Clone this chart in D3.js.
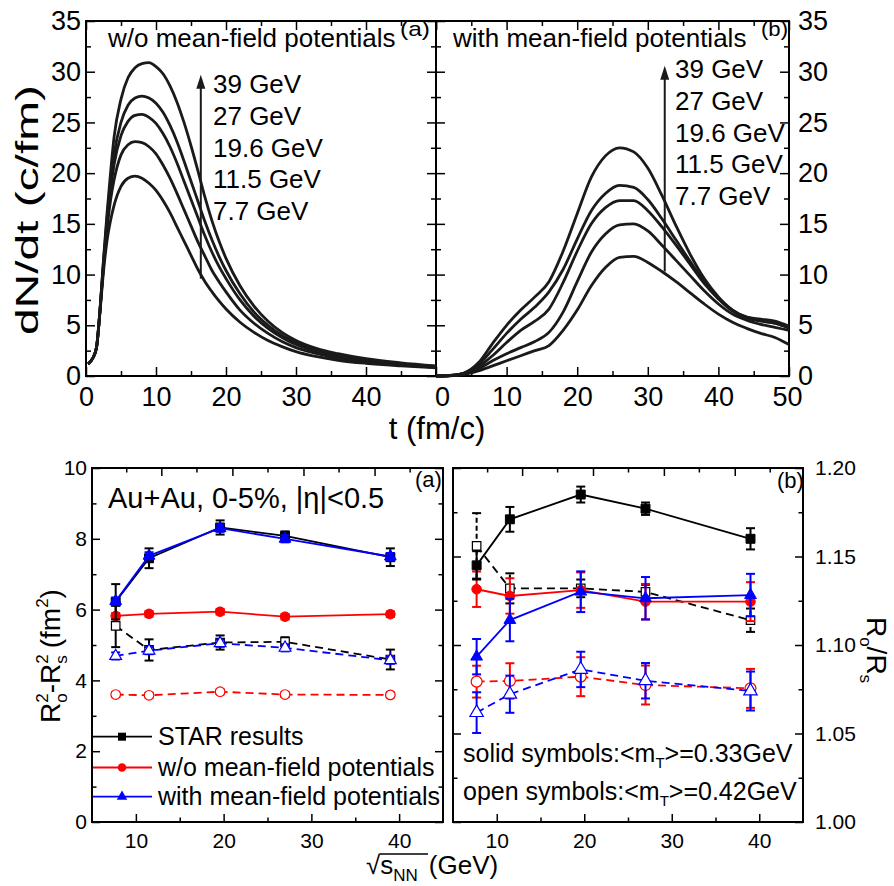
<!DOCTYPE html>
<html><head><meta charset="utf-8">
<script src="https://cdn.jsdelivr.net/npm/d3@7/dist/d3.min.js"></script>
<style>
body{margin:0;background:#fff;}
svg text{font-family:"Liberation Sans",Arial,Helvetica,sans-serif;fill:#000;}
</style></head><body>
<svg id="chart" width="894" height="886" xmlns="http://www.w3.org/2000/svg"></svg>
<script>
// ---------------- DATA ----------------
// Top panels: dN/dt (c/fm) vs t (fm/c)
const energyLabels = ["39 GeV", "27 GeV", "19.6 GeV", "11.5 GeV", "7.7 GeV"];
const tA = [0.3,1,1.5,2,2.5,3,3.5,4,5,6,7,8,9,10,11,12,13,14,15,16,17,18,19,20,22,24,26,28,30,33,36,40,45,50];
const dndtA_39  = [1.2,1.8,2.8,6.5,11.5,16,20,23.5,27.3,29.4,30.4,30.8,30.9,30.5,29.8,28.6,27,25,22.7,20.2,17.6,15.3,13.3,11.6,8.9,6.9,5.4,4.3,3.5,2.7,2.2,1.7,1.3,1.0];
const dndtA_27  = [1.2,1.8,2.8,6.5,11.3,15.5,19,21.8,25,26.7,27.4,27.6,27.4,26.9,26,24.7,23.1,21.2,19.2,17.2,15.2,13.4,11.8,10.4,8.1,6.3,5,4,3.3,2.5,2,1.6,1.2,0.95];
const dndtA_196 = [1.2,1.8,2.8,6.5,11,15,18.3,20.8,23.7,25.1,25.7,25.8,25.5,24.9,23.9,22.6,21,19.2,17.4,15.6,13.8,12.2,10.8,9.6,7.5,5.9,4.7,3.8,3.1,2.4,1.9,1.5,1.15,0.9];
const dndtA_115 = [1.2,1.8,2.8,6.5,10.8,14.5,17.3,19.3,21.8,22.8,23.1,23,22.6,21.9,20.8,19.5,18,16.4,14.8,13.2,11.8,10.4,9.3,8.3,6.5,5.2,4.2,3.4,2.8,2.2,1.75,1.4,1.1,0.85];
const dndtA_77  = [1.2,1.8,2.8,6.3,10.3,13.3,15.3,16.8,18.7,19.5,19.7,19.5,19,18.3,17.3,16.1,14.7,13.3,11.9,10.5,9.3,8.3,7.4,6.6,5.3,4.3,3.5,2.9,2.4,1.9,1.55,1.25,1.0,0.8];

const tB = [0,2,4,6,8,10,12,14,16,18,20,22,24,26,28,30,32,34,36,38,40,42,44,46,48,50];
const dndtB_39  = [0,0.05,0.3,1.3,3.2,5.0,6.5,7.8,9.3,12.3,16.0,19.6,21.7,22.5,22.1,20.5,17.8,14.8,12.0,9.6,7.8,6.5,5.8,5.6,5.4,4.9];
const dndtB_27  = [0,0.05,0.3,1.1,2.6,4.2,5.6,6.8,8.3,10.5,13.5,16.3,18.0,18.8,18.6,17.4,15.5,13.4,11.3,9.3,7.7,6.5,5.8,5.5,5.2,4.8];
const dndtB_196 = [0,0.05,0.25,0.9,2.0,3.3,4.5,5.4,6.6,9.2,12.3,15.0,16.6,17.3,17.3,16.3,14.7,12.9,11.0,9.1,7.6,6.4,5.7,5.4,5.2,4.7];
const dndtB_115 = [0,0.03,0.2,0.7,1.5,2.2,2.8,3.4,4.3,6.3,9.3,12.2,14.0,14.9,15.0,14.3,12.9,11.4,9.9,8.4,7.1,6.1,5.5,5.1,4.8,4.5];
const dndtB_77  = [0,0.02,0.15,0.5,1.0,1.5,2.0,2.5,3.0,4.5,6.5,8.9,10.7,11.7,11.8,11.2,10.3,9.3,8.2,7.1,6.1,5.3,4.7,4.2,3.8,3.1];

// arrows (data units: t, from, to)
const arrowA = [16.4, 9.6, 29.7];
const arrowB = [32.4, 10.3, 30.6];

// Top tick values
const topXMajor = [0,10,20,30,40,50];
const topXMinor = [5,15,25,35,45];
const topYMajor = [0,5,10,15,20,25,30,35];
const topYMinor = [2.5,7.5,12.5,17.5,22.5,27.5,32.5];

// Bottom panels
const energies = [7.7, 11.5, 19.6, 27, 39];
// (a) Ro^2 - Rs^2 (fm^2)
const starSolidA = [6.22, 7.45, 8.32, 8.08, 7.48];
const starSolidAErr = [0.5, 0.28, 0.2, 0.13, 0.25];
const starOpenA = [5.54, 4.86, 5.07, 5.09, 4.59];
const starOpenAErr = [0.6, 0.3, 0.2, 0.13, 0.28];
const woSolidA = [5.82, 5.88, 5.94, 5.80, 5.87];
const woSolidAErr = [0.08, 0.08, 0.08, 0.08, 0.08];
const woOpenA = [3.60, 3.58, 3.68, 3.60, 3.59];
const woOpenAErr = [0.07, 0.07, 0.07, 0.07, 0.07];
const withSolidA = [6.24, 7.52, 8.30, 8.00, 7.50];
const withSolidAErr = [0.1, 0.1, 0.1, 0.1, 0.1];
const withOpenA = [4.69, 4.84, 5.05, 4.92, 4.57];
const withOpenAErr = [0.1, 0.1, 0.1, 0.1, 0.1];
// (b) Ro/Rs
const starSolidB = [1.145, 1.171, 1.185, 1.177, 1.160];
const starSolidBErr = [0.008, 0.007, 0.0045, 0.0035, 0.006];
const starOpenB = [1.156, 1.132, 1.132, 1.130, 1.114];
const starOpenBErr = [0.0185, 0.0085, 0.005, 0.004, 0.0066];
const woSolidB = [1.1315, 1.1277, 1.131, 1.1245, 1.1245];
const woSolidBErr = [0.01, 0.01, 0.01, 0.01, 0.011];
const woOpenB = [1.0793, 1.0797, 1.0821, 1.0774, 1.0755];
const woOpenBErr = [0.009, 0.01, 0.011, 0.011, 0.011];
const withSolidB = [1.0934, 1.1141, 1.1301, 1.1264, 1.1282];
const withSolidBErr = [0.01, 0.012, 0.0115, 0.012, 0.012];
const withOpenB = [1.0618, 1.0722, 1.0862, 1.0798, 1.074];
const withOpenBErr = [0.0115, 0.0105, 0.01, 0.01, 0.011];

const botXMajor = [10,20,30,40];
const botXMinor = [15,25,35];
const botTopMajor = [12.9, 21.0, 29.1, 37.2];
const botTopMinor = [8.9, 16.9, 25.0, 33.1, 41.2];
const leftYMajor = [0,2,4,6,8,10];
const leftYMinor = [1,3,5,7,9];
const rightYMajor = [1.00,1.05,1.10,1.15,1.20];
const rightYMinor = [1.025,1.075,1.125,1.175];

const legendLabels = ["STAR results", "w/o mean-field potentials", "with mean-field potentials"];

// ---------------- DRAWING ----------------
const FONT = '"Liberation Sans", Arial, Helvetica, sans-serif';
const svg = d3.select("#chart");
const RED = "#ff0000", BLUE = "#0000ff", BLACK = "#000000";

function axes(transform, maker, scale, majors, minors, opts) {
  const o = Object.assign({major: 8, minor: 4.5, pad: 4, size: 20, labels: false, fmt: d3.format("d")}, opts);
  const g = svg.append("g").attr("transform", transform);
  g.call(maker(scale).tickValues(majors).tickSizeInner(-o.major).tickSizeOuter(0)
    .tickPadding(o.pad).tickFormat(o.labels ? o.fmt : () => ""));
  g.select(".domain").remove();
  g.attr("font-family", FONT).attr("font-size", o.size);
  g.selectAll(".tick line").attr("stroke", "#000").attr("stroke-width", 1.5);
  g.selectAll(".tick text").attr("fill", "#000");
  if (minors && minors.length) {
    const g2 = svg.append("g").attr("transform", transform);
    g2.call(maker(scale).tickValues(minors).tickSizeInner(-o.minor).tickSizeOuter(0).tickFormat(() => ""));
    g2.select(".domain").remove();
    g2.selectAll(".tick line").attr("stroke", "#000").attr("stroke-width", 1.5);
  }
  return g;
}
function frame(x0, y0, x1, y1) {
  svg.append("rect").attr("x", x0).attr("y", y0).attr("width", x1 - x0).attr("height", y1 - y0)
    .attr("fill", "none").attr("stroke", "#000").attr("stroke-width", 2);
}

// ---- Top panels ----
const yTop = d3.scaleLinear().domain([0, 35]).range([376, 21]);
const xA = d3.scaleLinear().domain([0, 50]).range([86, 436]);
const xB = d3.scaleLinear().domain([0, 50]).range([436, 789]);

// panel a axes
axes("translate(0,376)", d3.axisBottom, xA, topXMajor.slice(0, 5), topXMinor, {labels: true, size: 27, pad: 11, major: 9, minor: 5});
axes("translate(0,21)", d3.axisTop, xA, topXMajor, topXMinor, {major: 9, minor: 5});
axes("translate(86,0)", d3.axisLeft, yTop, topYMajor, topYMinor, {labels: true, size: 27, pad: 5, major: 9, minor: 5});
axes("translate(436,0)", d3.axisRight, yTop, topYMajor, topYMinor, {major: 9, minor: 5});
// panel b axes
const bAx = axes("translate(0,376)", d3.axisBottom, xB, topXMajor, topXMinor, {labels: true, size: 27, pad: 11, major: 9, minor: 5});
bAx.selectAll(".tick text").attr("dx", d => d === 0 ? 6 : (d === 50 ? -2 : 0));
axes("translate(0,21)", d3.axisTop, xB, topXMajor, topXMinor, {major: 9, minor: 5});
axes("translate(436,0)", d3.axisLeft, yTop, topYMajor, topYMinor, {major: 9, minor: 5});
axes("translate(789,0)", d3.axisRight, yTop, topYMajor, topYMinor, {labels: true, size: 27, pad: 9, major: 9, minor: 5});
frame(86, 21, 436, 376);
frame(436, 21, 789, 376);

function curves(x, ts, series) {
  const line = d3.line().x((d, i) => x(ts[i])).y(d => yTop(d)).curve(d3.curveMonotoneX);
  series.forEach(s => {
    svg.append("path").datum(s).attr("d", line).attr("fill", "none")
      .attr("stroke", "#1a1a1a").attr("stroke-width", 2.8).attr("stroke-linejoin", "round");
  });
}
curves(xA, tA, [dndtA_77, dndtA_115, dndtA_196, dndtA_27, dndtA_39]);
curves(xB, tB, [dndtB_77, dndtB_115, dndtB_196, dndtB_27, dndtB_39]);

function arrow(x, a) {
  const px = x(a[0]), y0 = yTop(a[1]), y1 = yTop(a[2]);
  svg.append("line").attr("x1", px).attr("x2", px).attr("y1", y0).attr("y2", y1 + 8)
    .attr("stroke", "#1a1a1a").attr("stroke-width", 2);
  const p = d3.path();
  p.moveTo(px, y1); p.lineTo(px - 4.5, y1 + 14); p.lineTo(px + 4.5, y1 + 14); p.closePath();
  svg.append("path").attr("d", p.toString()).attr("fill", "#1a1a1a");
}
arrow(xA, arrowA);
arrow(xB, arrowB);

function energyText(x0, b0) {
  energyLabels.forEach((t, i) => {
    svg.append("text").attr("x", x0).attr("y", b0 + i * 31.75).attr("font-size", 26).text(t);
  });
}
energyText(213, 93);
energyText(675, 78);

svg.append("text").attr("x", 108).attr("y", 47).attr("font-size", 26).text("w/o mean-field potentials");
svg.append("text").attr("x", 400).attr("y", 36).attr("font-size", 21).attr("textLength", 30).attr("lengthAdjust", "spacingAndGlyphs").text("(a)");
svg.append("text").attr("x", 453).attr("y", 47).attr("font-size", 26).text("with mean-field potentials");
svg.append("text").attr("x", 761).attr("y", 36).attr("font-size", 21).attr("textLength", 27).attr("lengthAdjust", "spacingAndGlyphs").text("(b)");

svg.append("text").attr("x", 437).attr("y", 439).attr("font-size", 31).attr("text-anchor", "middle").text("t (fm/c)");
svg.append("text").attr("transform", "translate(38,210) rotate(-90)").attr("font-size", 32)
  .attr("text-anchor", "middle").attr("textLength", 250).attr("lengthAdjust", "spacingAndGlyphs").text("dN/dt (c/fm)");

// ---- Bottom panels ----
const yL = d3.scaleLinear().domain([0, 10]).range([822, 468]);
const yR = d3.scaleLinear().domain([1.0, 1.2]).range([822, 468]);
const xL = d3.scaleLinear().domain([5, 45]).range([92, 443]);
const xR = d3.scaleLinear().domain([5, 45]).range([453, 803]);

axes("translate(92,0)", d3.axisLeft, yL, leftYMajor, leftYMinor, {labels: true, size: 21, pad: 5});
axes("translate(443,0)", d3.axisRight, yL, leftYMajor, leftYMinor, {});
axes("translate(0,822)", d3.axisBottom, xL, botXMajor, botXMinor, {labels: true, size: 21, pad: 11});
axes("translate(0,468)", d3.axisTop, xL, botTopMajor, botTopMinor, {});
axes("translate(803,0)", d3.axisRight, yR, rightYMajor, rightYMinor, {labels: true, size: 21, pad: 12, fmt: d3.format(".2f")});
axes("translate(453,0)", d3.axisLeft, yR, rightYMajor, rightYMinor, {});
axes("translate(0,822)", d3.axisBottom, xR, botXMajor, botXMinor, {labels: true, size: 21, pad: 11});
axes("translate(0,468)", d3.axisTop, xR, botTopMajor, botTopMinor, {});
frame(92, 468, 443, 822);
frame(453, 468, 803, 822);

const SYM = {square: d3.symbolSquare, circle: d3.symbolCircle, triangle: d3.symbolTriangle};
const SIZE = {square: 80, circle: 72, triangle: 60};
function drawSeries(x, y, vals, errs, st) {
  const pts = energies.map((e, i) => ({e, v: vals[i], err: errs ? errs[i] : 0}));
  const g = svg.append("g");
  g.append("path").datum(pts)
    .attr("d", d3.line().x(d => x(d.e)).y(d => y(d.v)))
    .attr("fill", "none").attr("stroke", st.color).attr("stroke-width", 1.8)
    .attr("stroke-dasharray", st.dashed ? "8,5" : null);
  if (errs) {
    pts.forEach(d => {
      const cx = x(d.e), ya = y(d.v - d.err), yb = y(d.v + d.err);
      g.append("line").attr("x1", cx).attr("x2", cx).attr("y1", ya).attr("y2", yb)
        .attr("stroke", st.color).attr("stroke-width", 2).attr("stroke-dasharray", st.errDash ? "5,3" : null);
      [ya, yb].forEach(yy => g.append("line").attr("x1", cx - 4.5).attr("x2", cx + 4.5).attr("y1", yy).attr("y2", yy)
        .attr("stroke", st.color).attr("stroke-width", 2));
    });
  }
  g.selectAll("path.mk").data(pts).join("path").attr("class", "mk")
    .attr("d", d3.symbol(SYM[st.symbol], SIZE[st.symbol] * (st.scale || 1)))
    .attr("transform", d => `translate(${x(d.e)},${y(d.v)})`)
    .attr("fill", st.open ? "#fff" : st.color).attr("stroke", st.color).attr("stroke-width", st.open ? 1.2 : 1);
}

// panel (a)
drawSeries(xL, yL, woOpenA, woOpenAErr, {color: RED, symbol: "circle", open: true, dashed: true});
drawSeries(xL, yL, starOpenA, starOpenAErr, {color: BLACK, symbol: "square", open: true, dashed: true, scale: 0.9});
drawSeries(xL, yL, withOpenA, withOpenAErr, {color: BLUE, symbol: "triangle", open: true, dashed: true});
drawSeries(xL, yL, woSolidA, woSolidAErr, {color: RED, symbol: "circle"});
drawSeries(xL, yL, starSolidA, starSolidAErr, {color: BLACK, symbol: "square"});
drawSeries(xL, yL, withSolidA, withSolidAErr, {color: BLUE, symbol: "triangle"});

// panel (b)
drawSeries(xR, yR, starOpenB, starOpenBErr, {color: BLACK, symbol: "square", open: true, dashed: true, errDash: true, scale: 0.9});
drawSeries(xR, yR, woOpenB, woOpenBErr, {color: RED, symbol: "circle", open: true, dashed: true, scale: 1.3});
drawSeries(xR, yR, withOpenB, withOpenBErr, {color: BLUE, symbol: "triangle", open: true, dashed: true, scale: 1.3});
drawSeries(xR, yR, woSolidB, woSolidBErr, {color: RED, symbol: "circle"});
drawSeries(xR, yR, withSolidB, withSolidBErr, {color: BLUE, symbol: "triangle"});
drawSeries(xR, yR, starSolidB, starSolidBErr, {color: BLACK, symbol: "square"});

// legend
const legColors = [BLACK, RED, BLUE];
const legSyms = ["square", "circle", "triangle"];
const legY = [736.7, 767.5, 796.7];
legendLabels.forEach((lab, i) => {
  svg.append("line").attr("x1", 93).attr("x2", 152).attr("y1", legY[i]).attr("y2", legY[i])
    .attr("stroke", legColors[i]).attr("stroke-width", 1.8);
  svg.append("path").attr("d", d3.symbol(SYM[legSyms[i]], SIZE[legSyms[i]] * 0.8))
    .attr("transform", `translate(122,${legY[i]})`).attr("fill", legColors[i]);
  svg.append("text").attr("x", 158).attr("y", legY[i] + 8).attr("font-size", 25).text(lab);
});

svg.append("text").attr("x", 108).attr("y", 508).attr("font-size", 29).text("Au+Au, 0-5%, |\u03B7|<0.5");
svg.append("text").attr("x", 415).attr("y", 487).attr("font-size", 22).text("(a)");
svg.append("text").attr("x", 777).attr("y", 488).attr("font-size", 22).text("(b)");

function mtText(y, word, val) {
  const t = svg.append("text").attr("x", 463).attr("y", y).attr("font-size", 25);
  t.append("tspan").text(word + " symbols:<m");
  t.append("tspan").attr("font-size", 15).attr("dy", 6).text("T");
  t.append("tspan").attr("dy", -6).text(">=" + val + "GeV");
}
mtText(762, "solid", "0.33");
mtText(800, "open", "0.42");

// x-axis title bottom
const xt = svg.append("text").attr("x", 366).attr("y", 874).attr("font-size", 26);
xt.append("tspan").text("\u221As");
xt.append("tspan").attr("font-size", 17).attr("dy", 7).text("NN");
xt.append("tspan").attr("dy", -7).attr("dx", 11).text("(GeV)");
svg.append("line").attr("x1", 380).attr("x2", 428).attr("y1", 854).attr("y2", 854).attr("stroke", "#000").attr("stroke-width", 1.3);

// left y title bottom
const lt = svg.append("text").attr("transform", "translate(60,656) rotate(-90)").attr("font-size", 28).attr("text-anchor", "middle");
lt.append("tspan").text("R");
lt.append("tspan").attr("font-size", 17).attr("dy", -12).text("2");
lt.append("tspan").attr("font-size", 17).attr("dx", -9.5).attr("dy", 19).text("o");
lt.append("tspan").attr("dy", -7).text("-R");
lt.append("tspan").attr("font-size", 17).attr("dy", -12).text("2");
lt.append("tspan").attr("font-size", 17).attr("dx", -9.5).attr("dy", 19).text("s");
lt.append("tspan").attr("dy", -7).attr("dx", 7).text("(fm");
lt.append("tspan").attr("font-size", 17).attr("dy", -12).text("2");
lt.append("tspan").attr("dy", 12).text(")");

// right y title bottom
const rt = svg.append("text").attr("transform", "translate(867,650) rotate(90)").attr("font-size", 28).attr("text-anchor", "middle");
rt.append("tspan").text("R");
rt.append("tspan").attr("font-size", 17).attr("dy", 7).text("o");
rt.append("tspan").attr("dy", -7).text("/R");
rt.append("tspan").attr("font-size", 17).attr("dy", 7).text("s");
</script>
</body></html>
